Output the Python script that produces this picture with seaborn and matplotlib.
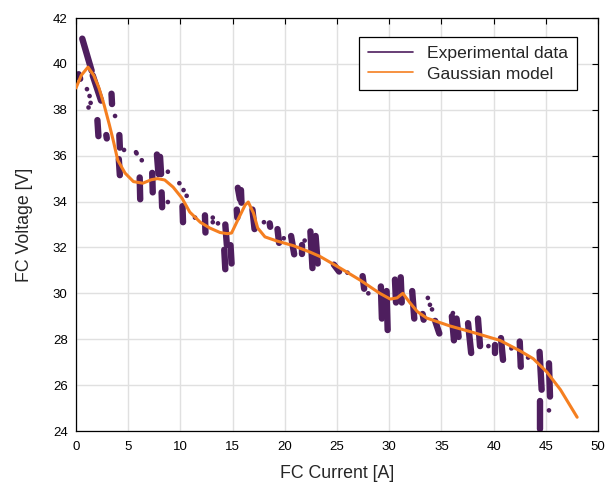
import matplotlib
matplotlib.use("Agg")
import matplotlib.pyplot as plt
from matplotlib.lines import Line2D
import seaborn as sns
import pandas as pd

# Gaussian model curve
model_current = [0, 0.5, 1.15, 1.7, 2.2, 2.7, 3.2, 3.6, 4.0, 4.7, 5.5, 6.4, 7.2, 7.8,
                 8.5, 9.3, 10.15, 10.9, 11.9, 12.8, 13.8, 14.5, 14.9, 15.5, 16.2, 16.5,
                 17.0, 17.4, 18.1, 19.25, 20.8, 22.4, 23.4, 25.3, 27.2, 29.1, 30.1, 30.75,
                 31.3, 32.0, 32.7, 33.6, 35.8, 38.0, 40.6, 42.5, 43.8, 45.1, 46.4, 48.0]
model_voltage = [38.95, 39.5, 39.86, 39.5, 38.95, 38.2, 37.34, 36.6, 35.8, 35.24, 34.87,
                 34.8, 34.95, 35.0, 34.94, 34.63, 34.15, 33.54, 33.1, 32.85, 32.65, 32.6,
                 32.63, 33.2, 33.85, 33.98, 33.5, 32.85, 32.46, 32.28, 32.08, 31.8, 31.6,
                 31.1, 30.58, 30.0, 29.75, 29.8, 30.0, 29.58, 29.2, 28.92, 28.58, 28.3,
                 27.95, 27.5, 27.15, 26.57, 25.8, 24.6]

# dense streaks of experimental samples: start/end (current, voltage)
streak_i0 = [0.6, 1.6, 0.25, 3.4, 2.05, 2.9, 4.15, 4.1, 6.1, 7.3, 7.75, 8.05, 8.2, 10.2,
             12.35, 14.3, 14.2, 14.8, 15.5, 15.8, 15.4, 16.9, 18.55, 19.3, 20.6, 22.45,
             22.95, 21.6, 24.7, 27.45, 29.2, 29.75, 30.55, 31.1, 32.2, 33.2, 34.4, 36.0,
             36.45, 37.55, 38.5, 40.1, 40.7, 42.5, 44.4, 45.3, 44.45]
streak_v0 = [41.1, 39.5, 39.55, 38.7, 37.55, 36.9, 36.9, 35.85, 35.05, 35.25, 36.05,
             35.95, 34.4, 33.8, 33.4, 33.0, 31.9, 32.1, 34.6, 34.5, 33.65, 33.65, 33.05,
             32.8, 32.5, 32.7, 32.5, 32.1, 31.25, 30.75, 30.3, 30.1, 30.6, 30.7, 30.1,
             29.1, 28.8, 29.0, 28.9, 28.7, 28.9, 27.75, 28.05, 27.9, 27.45, 26.95, 25.3]
streak_i1 = [1.5, 2.4, 0.4, 3.45, 2.15, 2.95, 4.2, 4.2, 6.15, 7.35, 7.9, 8.15, 8.25,
             10.25, 12.4, 14.45, 14.3, 14.9, 15.7, 15.85, 15.45, 17.1, 18.6, 19.45, 20.9,
             22.65, 23.15, 21.6, 25.2, 27.6, 29.3, 29.85, 30.65, 31.2, 32.4, 33.3, 34.8,
             36.2, 36.65, 37.85, 38.7, 40.1, 40.9, 42.6, 44.6, 45.4, 44.45]
streak_v1 = [39.7, 38.4, 39.35, 38.25, 36.85, 36.75, 36.35, 35.15, 34.1, 34.4, 35.2,
             35.2, 33.75, 33.1, 32.65, 32.1, 31.05, 31.3, 34.1, 33.95, 33.3, 32.8, 32.9,
             32.2, 31.7, 31.1, 31.3, 31.7, 30.95, 30.2, 28.9, 28.4, 29.6, 29.6, 28.9,
             28.85, 28.25, 27.95, 28.1, 27.4, 27.7, 27.4, 27.1, 26.8, 25.8, 25.5, 24.1]

# scattered single samples
dot_current = [1.05, 1.3, 1.4, 1.2, 3.74, 4.6, 5.75, 6.3, 5.8, 8.8, 8.8, 9.9, 10.3, 10.6,
               11.4, 13.1, 13.1, 13.6, 18.0, 19.9, 21.9, 26.0, 28.0, 33.7, 33.9, 34.1,
               36.1, 39.5, 41.7, 43.3, 45.3]
dot_voltage = [38.9, 38.6, 38.3, 38.1, 37.73, 36.25, 36.15, 35.8, 36.1, 35.3, 33.98, 34.8,
               34.5, 34.25, 33.3, 33.3, 33.1, 33.05, 33.1, 32.4, 32.3, 30.9, 30.0, 29.8,
               29.5, 29.3, 29.14, 27.7, 27.6, 27.2, 24.9]

purple = "#4E1E5E"
orange = "#F57F20"

sns.set_style("whitegrid")
plt.rcParams["font.family"] = ["Liberation Sans", "DejaVu Sans"]

fig = plt.figure(figsize=(6.08, 4.88), dpi=100)
ax = fig.add_axes([0.125, 0.1168, 0.8586, 0.8463])

for i0, v0, i1, v1 in zip(streak_i0, streak_v0, streak_i1, streak_v1):
    ax.plot([i0, i1], [v0, v1], color=purple, lw=4.6, solid_capstyle="round", zorder=2)

dots = pd.DataFrame({"current": dot_current, "voltage": dot_voltage})
sns.scatterplot(data=dots, x="current", y="voltage", color=purple, s=11,
                edgecolor="none", ax=ax, zorder=2)

model = pd.DataFrame({"current": model_current, "voltage": model_voltage})
sns.lineplot(data=model, x="current", y="voltage", color=orange, lw=2.2,
             sort=False, ax=ax, zorder=3)

ax.set_xlim(0, 50)
ax.set_ylim(24, 42)
ax.set_xticks(range(0, 51, 5))
ax.set_yticks(range(24, 43, 2))
ax.grid(True, color="#E0E0E0", lw=1)
for sp in ax.spines.values():
    sp.set_color("black")
    sp.set_linewidth(0.9)
ax.tick_params(direction="in", length=4, width=0.8, colors="black", labelsize=9.5,
               top=True, right=True)
ax.tick_params(axis="x", pad=7)
ax.tick_params(axis="y", pad=6)
ax.set_xlabel("FC Current [A]", fontsize=12.8, labelpad=9)
ax.set_ylabel("FC Voltage [V]", fontsize=12.8, labelpad=14)

handles = [Line2D([], [], color=purple, lw=1.2), Line2D([], [], color=orange, lw=1.2)]
leg = ax.legend(handles, ["Experimental data", "Gaussian model"], loc="upper right",
                bbox_to_anchor=(0.96, 0.954), borderaxespad=0, fontsize=12.6,
                frameon=True, fancybox=False, handlelength=2.6, handletextpad=0.8,
                borderpad=0.5, labelspacing=0.3)
leg.get_frame().set_edgecolor("black")
leg.get_frame().set_linewidth(0.9)
leg.get_frame().set_alpha(1)

fig.savefig("out.png", dpi=100)
